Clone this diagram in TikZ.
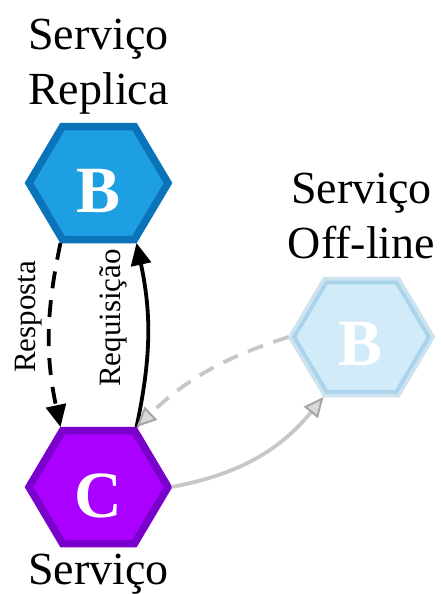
\documentclass[tikz,border=0pt]{standalone}
\usepackage{fontspec}
\setmainfont{Liberation Serif}
\usetikzlibrary{arrows.meta}
\definecolor{bfill}{HTML}{1E9FE2}
\definecolor{bdraw}{HTML}{0B73B8}
\definecolor{cfill}{HTML}{AA00FF}
\definecolor{cdraw}{HTML}{7A00CC}
\newcommand{\hexshape}[4]{%
  \coordinate (#1-l) at ({#2-73},#3);
  \coordinate (#1-r) at ({#2+73},#3);
  \coordinate (#1-tl) at ({#2-38},{#3-60});
  \coordinate (#1-tr) at ({#2+38},{#3-60});
  \coordinate (#1-bl) at ({#2-38},{#3+60});
  \coordinate (#1-br) at ({#2+38},{#3+60});
  \draw[#4] ({#2-69.5},#3) -- ({#2-36},{#3-56.5}) -- ({#2+36},{#3-56.5}) -- ({#2+69.5},#3) -- ({#2+36},{#3+56.5}) -- ({#2-36},{#3+56.5}) -- cycle;
}
\begin{document}
\begin{tikzpicture}[x=1pt,y=-1pt,
  hexline/.style={line width=7.5pt,line join=miter},
  title/.style={font=\fontsize{46}{55}\selectfont,anchor=base,inner sep=0pt},
  letter/.style={font=\fontsize{66}{70}\selectfont\bfseries,text=white,anchor=base,inner sep=0pt},
  side/.style={font=\fontsize{31}{36}\selectfont,anchor=base,inner sep=0pt,rotate=90},
  blk/.style={line width=3.8pt,-{Triangle[length=22pt,width=20pt]}},
  gry/.style={line width=3.8pt,draw=black!22,-{Triangle[length=20pt,width=18pt,color=black!35,fill=black!15,line width=2pt]}},
  dsh/.style={dash pattern=on 17pt off 12pt},
  gdsh/.style={dash pattern=on 16pt off 11pt}]
\fill[white] (0,0) rectangle (440,594);
\useasboundingbox (0,0) rectangle (440,594);

\hexshape{B}{98.5}{183}{hexline,fill=bfill,draw=bdraw}
\hexshape{C}{98.5}{487}{hexline,fill=cfill,draw=cdraw}
\hexshape{O}{361.5}{337}{hexline,fill=bfill,fill opacity=0.2,draw=bdraw,draw opacity=0.2}

\node[letter] (Bl) at (98.5,212) {B};
\node[letter] (Cl) at (98.5,517) {C};
\node[letter] (Ol) at (361,365) {B};

\node[title] (t1) at (98.5,49) {Serviço};
\node[title] (t2) at (98.5,104) {Replica};
\node[title] (t3) at (361.5,203) {Serviço};
\node[title] (t4) at (361.5,258) {Off-line};
\node[title] (t5) at (98.5,584) {Serviço};

\draw[blk,dsh] (B-bl) to[bend right=12] (C-tl);
\draw[blk] (C-tr) to[bend right=12] (B-br);
\draw[gry,gdsh] (O-l) to[bend right=13] (C-tr);
\draw[gry] (C-r) to[bend right=20] (O-bl);

\node[side] (resp) at (35,317) {Resposta};
\node[side] (req) at (120,318) {Requisição};
\end{tikzpicture}
\end{document}
